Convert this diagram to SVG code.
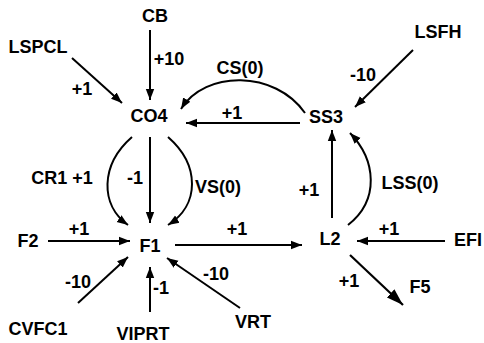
<svg xmlns="http://www.w3.org/2000/svg" width="484" height="343" viewBox="0 0 484 343">
<defs>
<marker id="ah" markerUnits="userSpaceOnUse" markerWidth="12" markerHeight="10" refX="11" refY="5" orient="auto">
<path d="M0,0.8 L11,5 L0,9.2 Z" fill="#000"/>
</marker>
<marker id="big" markerUnits="userSpaceOnUse" markerWidth="18" markerHeight="12" refX="17" refY="6" orient="auto">
<path d="M0,0.5 L17,6 L0,11.5 Z" fill="#000"/>
</marker>
<style>
text{font-family:"Liberation Sans",Arial,sans-serif;font-weight:bold;font-size:18px;fill:#000;text-anchor:middle}
.c{fill:none;stroke:#000;stroke-width:2;marker-end:url(#ah)}
.cb{fill:none;stroke:#000;stroke-width:2.2;marker-end:url(#big)}
</style>
</defs>
<rect width="484" height="343" fill="#fff"/>
<g id="connectors">
<path class="c" d="M150,30 L150,100"/>
<path class="c" d="M72,58 L122,103"/>
<path class="c" d="M305,113 C275,70 205,70 181,109"/>
<path class="c" d="M300,123 L186,123"/>
<path class="c" d="M413,50 L355,107"/>
<path class="c" d="M332,218 L332,130"/>
<path class="c" d="M348,225 C380,200 376,160 350,133"/>
<path class="c" d="M445,241 L357,241"/>
<path class="cb" d="M350,255 L403,305"/>
<path class="c" d="M175,245 L302,245"/>
<path class="c" d="M48,241 L130,241"/>
<path class="c" d="M150,137 L150,223"/>
<path class="c" d="M132,137 C100,165 100,205 128,225"/>
<path class="c" d="M168,137 C200,165 200,205 168,225"/>
<path class="c" d="M78,303 L128,257"/>
<path class="c" d="M150,312 L150,267"/>
<path class="c" d="M240,308 L167,258"/>
</g>
<g id="CB"><text x="155" y="22">CB</text></g>
<g id="LSPCL"><text x="38" y="53">LSPCL</text></g>
<g id="CO4"><text x="149" y="122">CO4</text></g>
<g id="SS3"><text x="326" y="123">SS3</text></g>
<g id="LSFH"><text x="438" y="38">LSFH</text></g>
<g id="L2"><text x="330" y="245">L2</text></g>
<g id="EFI"><text x="468" y="246">EFI</text></g>
<g id="F5"><text x="420" y="293">F5</text></g>
<g id="F1"><text x="150" y="252">F1</text></g>
<g id="F2"><text x="28" y="247">F2</text></g>
<g id="CVFC1"><text x="38" y="335">CVFC1</text></g>
<g id="VIPRT"><text x="143" y="340">VIPRT</text></g>
<g id="VRT"><text x="253" y="328">VRT</text></g>
<g id="labels">
<text x="169" y="65">+10</text>
<text x="82" y="95">+1</text>
<text x="240" y="74">CS(0)</text>
<text x="232" y="119">+1</text>
<text x="363" y="81">-10</text>
<text x="309" y="196">+1</text>
<text x="410" y="189">LSS(0)</text>
<text x="389" y="235">+1</text>
<text x="349" y="287">+1</text>
<text x="237" y="235">+1</text>
<text x="79" y="235">+1</text>
<text x="62" y="184">CR1 +1</text>
<text x="135" y="184">-1</text>
<text x="218" y="193">VS(0)</text>
<text x="78" y="288">-10</text>
<text x="161" y="294">-1</text>
<text x="216" y="280">-10</text>
</g>
</svg>
